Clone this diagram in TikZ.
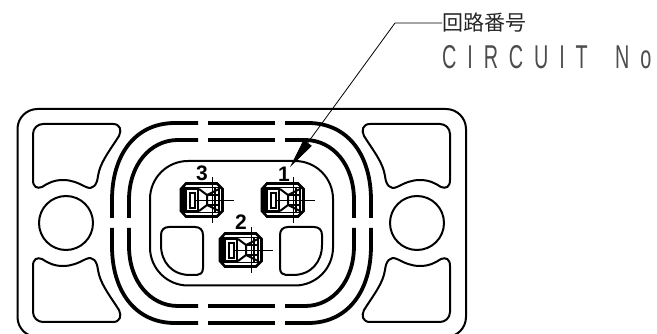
\documentclass[tikz,border=0pt]{standalone}
\usepackage{fontspec}
\usetikzlibrary{arrows.meta}
\newfontfamily\jpfont{Noto Sans CJK JP}
\newfontfamily\cnfont[FakeStretch=0.6,LetterSpace=33]{Liberation Sans}
\newfontfamily\numfont{Liberation Sans}
\tikzset{
  body/.style={line width=2pt,black},
  seal/.style={line width=3.8pt,black,line cap=butt},
  num/.style={font=\numfont\bfseries\fontsize{21}{21}\selectfont,inner sep=0pt},
  conn/.pic={
    \draw[line width=2.6pt,fill=white] (6,-16.5)--(37,-16.5)--(42.5,-11)--(42.5,11)--(37,16.5)--(6,16.5)--(1,11)--(1,-11)--cycle;
    \draw[line width=4pt] (2.5,-11)--(2.5,11);
    \draw[line width=1.2pt] (4,-12.5) rectangle (39,12.5);
    \draw[line width=1.6pt] (6,-11) rectangle (18,11);
    \draw[line width=2pt] (10,-7) rectangle (15,8);
    \draw[line width=2pt] (19,-11)--(27,-5)--(27,5)--(19,11);
    \draw[line width=2pt] (39,-11)--(27,-5) (39,11)--(27,5);
    \draw[line width=1.2pt] (27,-5)--(39,-5) (27,5)--(39,5) (35,-13)--(35,13);
    \draw[line width=.9pt] (14,0)--(54,0) (32,-23)--(32,23);
  }
}
\begin{document}
\begin{tikzpicture}[x=1pt,y=-1pt]
\useasboundingbox (0,0) rectangle (657,334);
\clip (0,0) rectangle (657,334);
% housing
\draw[body] (17.5,109) [rounded corners=20pt] rectangle (466,337);
\foreach \sx/\sy in {1/1,-1/1,1/-1,-1/-1}{
\begin{scope}[shift={(241.5,223)},xscale=\sx,yscale=\sy,shift={(-241.5,-223)}]
  \draw[body] (43,124) -- (113,124) .. controls (120,124) and (122,130) .. (119,136)
    .. controls (108,153) and (100,163) .. (98,176)
    .. controls (97,185) and (93,190) .. (86,187)
    .. controls (78,183) and (72,180) .. (63,180)
    .. controls (54,180) and (48,183) .. (42,187)
    .. controls (37,189) and (33,187) .. (33,180)
    -- (33,134) .. controls (33,128) and (38,124) .. (43,124) -- cycle;
  \draw[seal] (112,218) -- (112,200) .. controls (112,155) and (135,123) .. (175,123) -- (198,123);
  \draw[seal] (129,218) -- (129,200) .. controls (129,165) and (150,140) .. (178,140) -- (198,140);
  \draw[seal] (208,123) -- (241.5,123);
  \draw[seal] (208,140) -- (241.5,140);
\end{scope}}
\foreach \sx in {1,-1}{
\begin{scope}[shift={(241.5,223)},xscale=\sx,shift={(-241.5,-223)}]
  \draw[body] (66,223) circle (27);
  \draw[body] (169,227) -- (195,227) .. controls (200,227) and (203,230) .. (203,235)
    -- (203,268) .. controls (203,273) and (200,275) .. (197,275) -- (190,275)
    .. controls (172,275) and (161,262) .. (161,245) -- (161,235)
    .. controls (161,230) and (164,227) .. (169,227) -- cycle;
\end{scope}}
\draw[body] (150,161) [rounded corners=38pt] rectangle (333,285.5);
% cavities
\pic at (180,200) {conn};
\pic at (261,200) {conn};
\pic at (219,250) {conn};
\node[num] (n3) at (202,173.5) {3};
\node[num] (n1) at (284,174.5) {1};
\node[num] (n2) at (241,222) {2};
% leader
\node[anchor=west,inner sep=0pt,font=\jpfont\fontsize{21}{21}\selectfont,text=black!85] (jp) at (442,23) {回路番号};
\node[anchor=west,inner sep=0pt,font=\cnfont\fontsize{33}{33}\selectfont,text=black!70] (cn) at (442,57) {CIRCUIT\hspace{11pt} No};
\coordinate (elbow) at (395,23);
\draw[line width=.8pt,-{Triangle[length=30pt,width=10pt]}] (jp.west) -- (elbow) -- (n1.north east);
\end{tikzpicture}
\end{document}
